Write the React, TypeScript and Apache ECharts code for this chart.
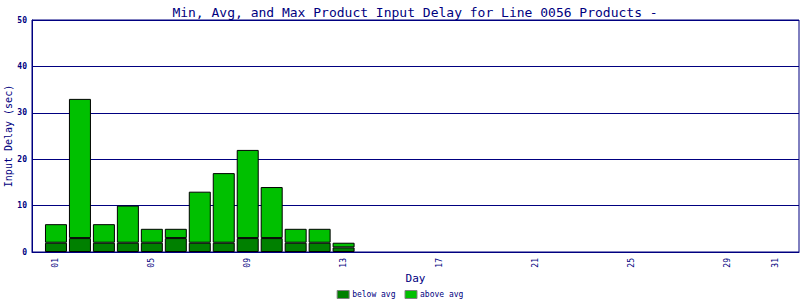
import React, { useEffect, useRef } from "react";
import * as echarts from "echarts";

const days = [1, 2, 3, 4, 5, 6, 7, 8, 9, 10, 11, 12, 13];
const belowAvg = [2, 3, 2, 2, 2, 3, 2, 2, 3, 3, 2, 2, 1];
const aboveAvg = [4, 30, 4, 8, 3, 2, 11, 15, 19, 11, 3, 3, 1];
const dayTicks = [1, 5, 9, 13, 17, 21, 25, 29, 31];
const dayCount = 32;

const NAVY = "#000080";
const MONO = "DejaVu Sans Mono, Liberation Mono, monospace";

const categories = Array.from({ length: dayCount + 1 }, (_, i) => String(i).padStart(2, "0"));

function seriesData(vals: number[]) {
  const arr: (number | null)[] = categories.map(() => null);
  days.forEach((d, i) => {
    arr[d] = vals[i];
  });
  return arr;
}

export default function App() {
  const ref = useRef<HTMLDivElement>(null);
  useEffect(() => {
    if (!ref.current) return;
    const chart = echarts.init(ref.current, undefined, { renderer: "svg" });
    chart.setOption({
      animation: false,
      backgroundColor: "#ffffff",
      title: {
        text: "Min, Avg, and Max Product Input Delay for Line 0056 Products -",
        left: 410,
        textAlign: "center",
        top: 1,
        textStyle: { color: NAVY, fontFamily: MONO, fontSize: 13, fontWeight: "normal" },
      },
      grid: {
        left: 32,
        right: 1,
        top: 20,
        bottom: 48,
        outerBoundsMode: "none",
        containLabel: false,
        show: true,
        borderColor: NAVY,
        borderWidth: 1,
        backgroundColor: "#ffffff",
      },
      legend: {
        top: 290,
        left: "center",
        padding: 0,
        itemWidth: 12,
        itemHeight: 8,
        itemGap: 9,
        icon: "rect",
        itemStyle: { borderColor: "#808080", borderWidth: 1 },
        textStyle: { color: NAVY, fontFamily: MONO, fontSize: 8, padding: [0, 0, 0, -2] },
        data: ["below avg", "above avg"],
      },
      xAxis: {
        type: "category",
        data: categories,
        boundaryGap: false,
        name: "Day",
        nameLocation: "middle",
        nameGap: 21,
        nameMoveOverlap: false,
        nameTextStyle: { color: NAVY, fontFamily: MONO, fontSize: 11 },
        axisLine: { show: true, lineStyle: { color: NAVY, width: 1 } },
        axisTick: { show: false },
        splitLine: { show: false },
        axisLabel: {
          interval: (idx: number) => dayTicks.includes(idx),
          rotate: 90,
          color: NAVY,
          fontFamily: MONO,
          fontSize: 8,
          margin: 6,
        },
      },
      yAxis: {
        type: "value",
        min: 0,
        max: 50,
        interval: 10,
        name: "Input Delay (sec)",
        nameLocation: "middle",
        nameGap: 19,
        nameMoveOverlap: false,
        nameTextStyle: { color: NAVY, fontFamily: MONO, fontSize: 10 },
        axisLine: { show: true, lineStyle: { color: NAVY, width: 1 } },
        axisTick: { show: false },
        splitLine: { show: true, lineStyle: { color: NAVY, width: 1 } },
        axisLabel: {
          color: NAVY,
          fontFamily: MONO,
          fontSize: 8,
          fontWeight: "bold",
          margin: 5,
        },
      },
      series: [
        {
          name: "below avg",
          type: "bar",
          stack: "d",
          barWidth: 22,
          itemStyle: { color: "#008000", borderColor: "#000000", borderWidth: 1 },
          data: seriesData(belowAvg),
        },
        {
          name: "above avg",
          type: "bar",
          stack: "d",
          barWidth: 22,
          itemStyle: { color: "#00c000", borderColor: "#000000", borderWidth: 1 },
          data: seriesData(aboveAvg),
        },
      ],
    });
    return () => chart.dispose();
  }, []);
  return <div ref={ref} style={{ width: 800, height: 300, position: "absolute", left: 0, top: 0 }} />;
}
